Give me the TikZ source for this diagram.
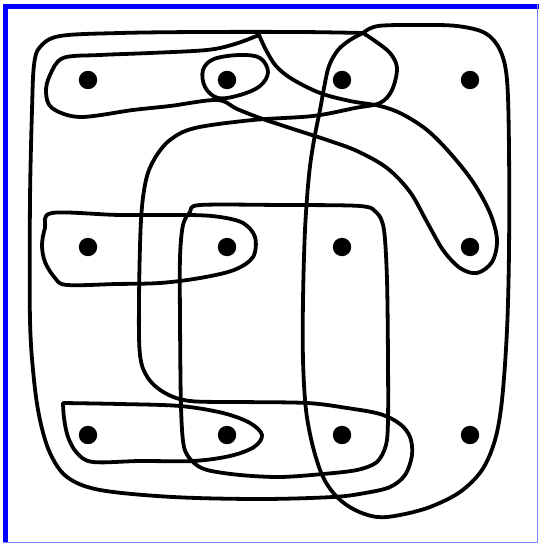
\documentclass[tikz,border=0pt]{standalone}
\usepackage{tikz}
\begin{document}
\begin{tikzpicture}[x=0.025cm, y=-0.025cm,
    vertex/.style={circle, fill=black, inner sep=0pt, minimum size=4.6mm},
    hyperedge/.style={line width=2.7pt, line join=round, line cap=round}]
    \useasboundingbox (0,0) rectangle (539,543);

    % Frame
    \fill[blue] (3,4) rectangle (8,543);
    \fill[blue] (3,4) rectangle (539,9);
    \draw[blue!50, line width=1pt] (537.5,4) -- (537.5,542.5) -- (3,542.5);

    % Vertices
    \foreach \x [count=\i] in {88,227,342,470}
        \foreach \y [count=\j] in {80,247,435}
            \node[vertex] (v\j\i) at (\x,\y) {};

    % Big C-shaped edge (sharp corner at the top)
    \draw[hyperedge] plot[smooth, tension=0.55] coordinates {
        (363,33) (300,32) (200,32) (120,33) (60,36) (40,47) (34,65) (32,110)
        (30,200) (30,320) (34,380) (40,420) (50,453) (67,477) (100,490)
        (173,497) (260,499) (333,497) (365,493) (390,487) (405,475) (412,455)
        (410,437) (400,424) (380,414) (347,408) (307,403) (240,402) (190,401)
        (165,393) (148,378) (140,355) (139,300) (141,220) (146,180) (155,158)
        (170,140) (195,128) (253,120) (313,116) (355,108) (380,103) (392,90)
        (397,68) (390,53) (375,41) (363,33)};

    % Right columns
    \draw[hyperedge] plot[smooth, tension=0.55] coordinates {
        (363,33) (378,26) (420,25) (457,26) (485,33) (500,50) (507,80)
        (509,150) (509,250) (507,330) (502,400) (495,440) (482,470) (460,492)
        (430,507) (400,515) (377,517) (355,510) (337,497) (323,477) (313,447)
        (306,410) (303,360) (303,300) (305,230) (309,175) (314,140) (320,110)
        (324,88) (329,66) (338,50) (350,40) (363,33)};

    % Hook through the top row
    \draw[hyperedge] plot[smooth, tension=0.55] coordinates {
        (259,35) (266,50) (276,66)
        (292,79) (320,93) (350,101) (380,106) (402,114) (427,130) (450,153)
        (473,182) (490,213) (497,240) (492,262) (477,273) (460,268) (443,250)
        (427,222) (410,192) (387,168) (357,151) (327,140) (290,128) (260,118)
        (237,109) (217,100) (170,106) (133,110) (80,117) (52,108) (46,92)
        (50,75) (63,58) (100,55) (150,53) (207,50) (235,44) (259,35)};

    % Single vertex loop
    \draw[hyperedge] plot[smooth cycle, tension=0.6] coordinates {
        (203,70) (214,59) (240,55) (260,58) (268,72) (260,86) (240,95)
        (218,98) (205,87)};

    % Middle square
    \draw[hyperedge] plot[smooth cycle, tension=0.5] coordinates {
        (200,205) (280,205) (360,206) (377,213) (384,230) (387,280) (388,360)
        (388,420) (386,445) (377,462) (357,470) (323,474) (280,477) (240,475)
        (207,470) (193,462) (184,447) (181,407) (180,320) (180,257) (183,225)
        (190,212)};

    % Middle row pair
    \draw[hyperedge] plot[smooth cycle, tension=0.55] coordinates {
        (52,213) (120,215) (190,215) (220,217) (243,223) (255,237) (253,257)
        (234,270) (200,278) (160,283) (117,284) (67,285) (55,278) (45,262)
        (42,245) (45,228)};

    % Bottom row pair (sharp corner top left)
    \draw[hyperedge] plot[smooth, tension=0.55] coordinates {
        (63,403) (120,404) (180,406) (223,413) (250,423) (262,435) (254,447)
        (230,456) (193,461) (140,461) (93,462) (77,453) (68,437) (64,418)
        (63,403)};
\end{tikzpicture}
\end{document}
